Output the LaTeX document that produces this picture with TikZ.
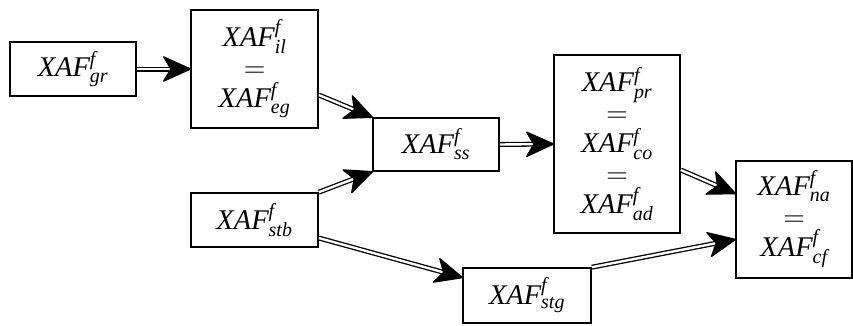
\documentclass[tikz,border=0pt]{standalone}
\usepackage{graphicx}
\usepackage{fontspec}
\setmainfont{Liberation Serif}
\usetikzlibrary{arrows.meta,calc}
\newcommand{\X}[1]{$\mathit{XAF}^{\mathit{f}}_{\mathit{#1}}$}
\newcommand{\Eq}{{\fontsize{24}{24}\selectfont\scalebox{1.2}{$=$}}}
\tikzset{
  box/.style={draw, line width=1.6pt, align=center, inner sep=0pt,
    font=\fontsize{28.5}{30.5}\selectfont},
  dbl/.style={double, double distance=2.4pt, line width=1.3pt,
    -{Stealth[length=30pt,width=27pt,inset=8pt,round]}, shorten >=-1pt}
}
\begin{document}
\begin{tikzpicture}[x=1pt,y=1pt]
\useasboundingbox (0,0) rectangle (853,325);
\node[box, minimum width=126pt, minimum height=54pt] (gr) at (73,256) {\X{gr}};
\node[box, minimum width=127pt, minimum height=118pt] (il) at (254.5,256) {\X{il}\\\Eq\\\X{eg}};
\node[box, minimum width=126pt, minimum height=53pt] (ss) at (436,180.5) {\X{ss}};
\node[box, minimum width=127pt, minimum height=54pt] (stb) at (254.5,105) {\X{stb}};
\node[box, minimum width=128pt, minimum height=55pt] (stg) at (527,29.5) {\X{stg}};
\node[box, minimum width=126pt, minimum height=178pt] (pr) at (617,181) {\X{pr}\\\Eq\\\X{co}\\\Eq\\\X{ad}};
\node[box, minimum width=116pt, minimum height=117pt] (na) at (794,105.5) {\X{na}\\\Eq\\\X{cf}};
\draw[dbl] (gr.east) -- (il.west);
\draw[dbl] ($(il.east)+(0,-26)$) -- (ss.north west);
\draw[dbl] (stb.north east) -- (ss.south west);
\draw[dbl] (ss.east) -- (pr.west);
\draw[dbl] ($(stb.east)+(0,-18)$) -- ($(stg.west)+(0,18)$);
\draw[dbl] (stg.north east) -- ($(na.west)+(0,-20)$);
\draw[dbl] ($(pr.east)+(0,-26)$) -- ($(na.west)+(0,26)$);
\end{tikzpicture}
\end{document}
